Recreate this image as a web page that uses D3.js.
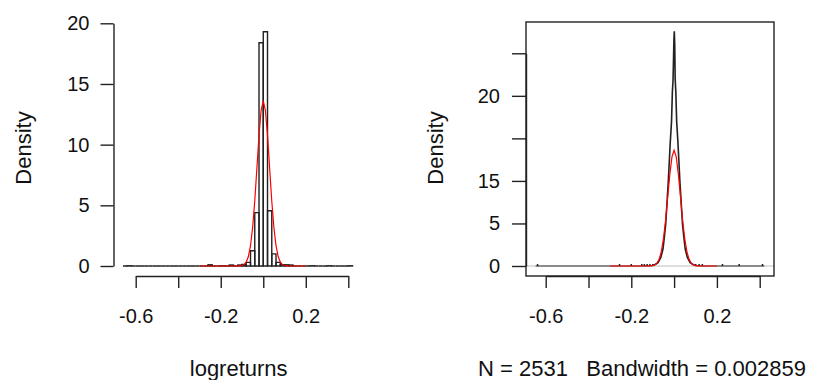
<!DOCTYPE html>
<html>
<head>
<meta charset="utf-8">
<script src="https://cdn.jsdelivr.net/npm/d3@7"></script>
<style>
  body { margin: 0; background: #fff; }
  svg text { font-family: "Liberation Sans", Arial, sans-serif; fill: #111; }
  .lab { font-size: 22px; white-space: pre; }
</style>
</head>
<body>
<svg id="chart" width="817" height="380"></svg>
<script>
// histogram of logreturns: bins of width 0.02 starting at -0.66
const binStart = -0.66;
const binWidth = 0.02;
const histDensity = [
  0, 0.02, 0, 0, 0, 0, 0, 0, 0, 0,
  0, 0, 0, 0, 0, 0, 0, 0, 0, 0,
  0.1, 0, 0, 0.02, 0, 0.08, 0, 0.08, 0.12, 0.3,
  1.26, 4.4, 18.4, 19.3, 4.55, 1.0, 0.3, 0.1, 0.1, 0.08,
  0, 0, 0, 0, 0.02, 0, 0, 0, 0.02, 0,
  0, 0, 0, 0.02
];

// normal curve (red)
const normX = [-0.30, -0.12, -0.11, -0.10, -0.09, -0.08, -0.07, -0.06, -0.05, -0.04, -0.03, -0.02, -0.01, 0.00,
  0.01, 0.02, 0.03, 0.04, 0.05, 0.06, 0.07, 0.08, 0.09, 0.10, 0.11, 0.12, 0.20];
const normY = [0, 0.003, 0.01, 0.04, 0.12, 0.33, 0.78, 1.67, 3.17, 5.35, 8.05, 10.77, 12.83, 13.6,
  12.83, 10.77, 8.05, 5.35, 3.17, 1.67, 0.78, 0.33, 0.12, 0.04, 0.01, 0.003, 0];

// kernel density (black)
const kdeX = [-0.647, -0.12, -0.10, -0.09, -0.075, -0.062, -0.052, -0.045, -0.039, -0.033, -0.027, -0.022, -0.018,
  -0.012, -0.008, -0.005, -0.003, -0.001, 0.001, 0.003, 0.005, 0.008, 0.012, 0.018, 0.022, 0.027, 0.033,
  0.039, 0.045, 0.052, 0.062, 0.075, 0.09, 0.10, 0.12, 0.422];
const kdeY = [0, 0, 0.05, 0.15, 0.4, 1.0, 2.0, 3.5, 5.0, 7.5, 10.0, 12.5, 14.5,
  17.0, 20.5, 21.8, 24.0, 26.5, 27.6, 26.0, 22.0, 20.5, 17.0, 14.5, 12.5, 10.0, 7.5,
  5.0, 3.5, 2.0, 1.0, 0.4, 0.15, 0.05, 0, 0];
// isolated observations showing as tiny bumps on the zero line
const outliers = [-0.638, -0.255, -0.2, -0.151, -0.139, -0.126, -0.113, -0.1, 0.101, 0.117, 0.132, 0.226, 0.304, 0.413];

const xTicks = [-0.6, -0.4, -0.2, 0, 0.2, 0.4];
const xTickLabels = ["-0.6", "", "-0.2", "", "0.2", ""];
const yTicksLeft = [0, 5, 10, 15, 20];
const yTicksRight = [0, 5, 10, 15, 20, 25];
const yTickLabelsRight = ["0", "5", "15", "", "20", ""];

const svg = d3.select('#chart');
const ink = '#222';

// ---------- left panel: histogram ----------
const xL = d3.scaleLinear().domain([-0.6, 0.4]).range([135.7, 348.3]);
const yL = d3.scaleLinear().domain([0, 20]).range([266, 23.3]);
const gL = svg.append('g');

const bins = histDensity.map((d, i) => ({x0: binStart + i * binWidth, x1: binStart + (i + 1) * binWidth, d}));
// paths instead of rects so empty bins still show as a line on the baseline
gL.append('g').selectAll('path')
  .data(bins)
  .join('path')
  .attr('d', b => {
    const p = d3.path();
    p.moveTo(xL(b.x0), yL(0));
    p.lineTo(xL(b.x0), yL(b.d));
    p.lineTo(xL(b.x1), yL(b.d));
    p.lineTo(xL(b.x1), yL(0));
    p.closePath();
    return p.toString();
  })
  .attr('fill', 'none')
  .attr('stroke', ink)
  .attr('stroke-width', 1.4);

const lineL = d3.line().x((d, i) => xL(normX[i])).y(d => yL(d));
gL.append('path')
  .attr('d', lineL(normY))
  .attr('fill', 'none')
  .attr('stroke', '#ff0000')
  .attr('stroke-width', 1.2);

gL.append('g')
  .attr('transform', 'translate(0,276)')
  .call(d3.axisBottom(xL).tickValues(xTicks).tickSize(12).tickSizeOuter(0).tickPadding(21)
    .tickFormat((d, i) => xTickLabels[i]));
gL.append('g')
  .attr('transform', 'translate(113.5,0)')
  .call(d3.axisLeft(yL).tickValues(yTicksLeft).tickSize(13).tickSizeOuter(0).tickPadding(11));

gL.append('text')
  .attr('class', 'lab')
  .attr('x', 238.7).attr('y', 376)
  .attr('text-anchor', 'middle')
  .text('logreturns');
gL.append('text')
  .attr('class', 'lab')
  .attr('transform', 'translate(31,148) rotate(-90)')
  .attr('text-anchor', 'middle')
  .text('Density');

// ---------- right panel: density ----------
const xR = d3.scaleLinear().domain([-0.6, 0.4]).range([545.7, 759.7]);
const yR = d3.scaleLinear().domain([0, 25]).range([266, 53.3]);
const gR = svg.append('g');

const lineR = d3.line().x((d, i) => xR(kdeX[i])).y(d => yR(d));
gR.append('path')
  .attr('d', lineR(kdeY))
  .attr('fill', 'none')
  .attr('stroke', ink)
  .attr('stroke-width', 1.6);

gR.append('line')
  .attr('x1', 526).attr('x2', 774)
  .attr('y1', yR(0)).attr('y2', yR(0))
  .attr('stroke', '#bebebe')
  .attr('stroke-width', 1);

gR.append('g').selectAll('rect')
  .data(outliers)
  .join('rect')
  .attr('x', d => xR(d) - 0.75)
  .attr('y', yR(0) - 2)
  .attr('width', 1.5)
  .attr('height', 2)
  .attr('fill', ink);

const lineR2 = d3.line().x((d, i) => xR(normX[i])).y(d => yR(d));
gR.append('path')
  .attr('d', lineR2(normY))
  .attr('fill', 'none')
  .attr('stroke', '#ff0000')
  .attr('stroke-width', 1.2);

gR.append('rect')
  .attr('x', 526).attr('y', 22)
  .attr('width', 248).attr('height', 254)
  .attr('fill', 'none')
  .attr('stroke', ink)
  .attr('stroke-width', 1.4);

gR.append('g')
  .attr('transform', 'translate(0,276)')
  .call(d3.axisBottom(xR).tickValues(xTicks).tickSize(12).tickSizeOuter(0).tickPadding(21)
    .tickFormat((d, i) => xTickLabels[i]));
gR.append('g')
  .attr('transform', 'translate(526,0)')
  .call(d3.axisLeft(yR).tickValues(yTicksRight).tickSize(14).tickSizeOuter(0).tickPadding(12)
    .tickFormat((d, i) => yTickLabelsRight[i]));

gR.append('text')
  .attr('class', 'lab')
  .attr('x', 642).attr('y', 376)
  .attr('text-anchor', 'middle')
  .text('N = 2531   Bandwidth = 0.002859');
gR.append('text')
  .attr('class', 'lab')
  .attr('transform', 'translate(443,148) rotate(-90)')
  .attr('text-anchor', 'middle')
  .text('Density');

// axis styling like base graphics
svg.selectAll('.domain').attr('stroke', ink).attr('stroke-width', 1.4);
svg.selectAll('.tick line').attr('stroke', ink).attr('stroke-width', 1.4);
svg.selectAll('.tick text').attr('fill', '#111').style('font-size', '20px')
  .style('font-family', '"Liberation Sans", Arial, sans-serif');
</script>
</body>
</html>
